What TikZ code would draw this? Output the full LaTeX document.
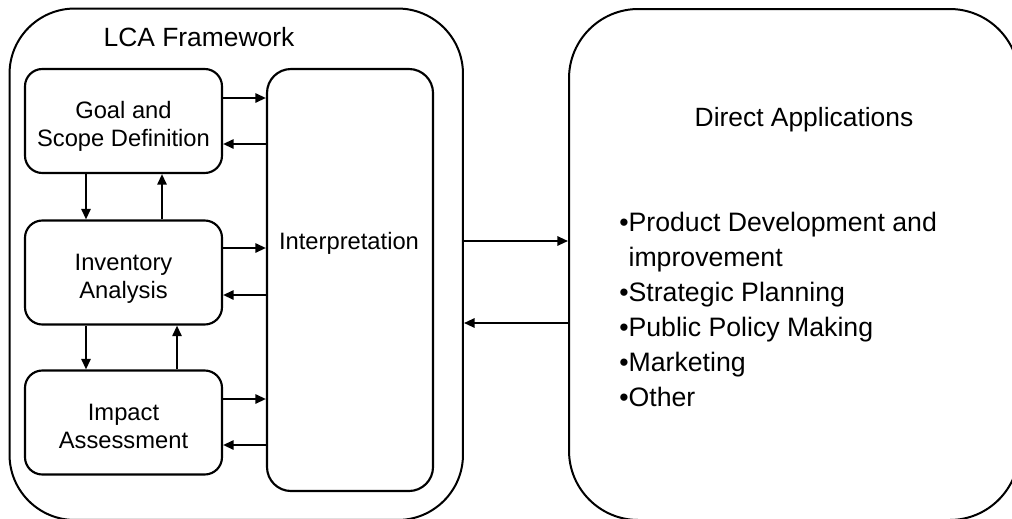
\documentclass[tikz,border=0pt]{standalone}
\usepackage{fontspec}
\setmainfont{Liberation Sans}
\usetikzlibrary{arrows.meta}
% two centred lines, set a little below the middle of their box
\newcommand\stagelabel[2]{\raisebox{-4.5pt}[\height][\depth]{\begin{tabular}{@{}c@{}}#1\\#2\end{tabular}}}
\begin{document}
\begin{tikzpicture}[x=0.75pt,y=-0.75pt,
  panel/.style={draw, line width=1.5pt, inner sep=0pt},
  stagebox/.style={draw, line width=1.6pt, inner sep=0pt, rounded corners=13pt,
    minimum width=147.75pt, minimum height=78pt,
    font=\fontsize{17.8}{21}\selectfont},
  arr/.style={-{Triangle[length=8pt,width=7pt]}, line width=1.5pt},
  title/.style={inner sep=0pt, font=\fontsize{19.8}{24}\selectfont}]
\useasboundingbox (0,0) rectangle (1012,518);
\clip (0,0) rectangle (1012,518);
\fill[white] (0,0) rectangle (1012,518);

% outer panels
\node[panel, rounded corners=49pt, minimum width=340.1pt, minimum height=383.6pt]
  (frame) at (236.25,264.25) {};
\node[panel, rounded corners=52pt, minimum width=337.5pt, minimum height=383.25pt]
  (appbox) at (794,264.5) {};

% LCA stages
\node[stagebox] (goal) at (123.5,121) {\stagelabel{Goal and}{Scope Definition}};
\node[stagebox] (inv) at (123.5,272.5) {\stagelabel{Inventory}{Analysis}};
\node[stagebox] (impact) at (123.5,422.5) {\stagelabel{Impact}{Assessment}};
\node[draw, line width=1.6pt, inner sep=0pt, rounded corners=18pt,
  minimum width=124.5pt, minimum height=316.5pt] (interp) at (350,280) {};

% labels
\node[title] (lca) at (199,37) {LCA Framework};
\node[inner sep=0pt, font=\fontsize{17.8}{21}\selectfont] (interplabel) at (349,243) {Interpretation};
\node[title] (datitle) at (804,120) {Direct Applications};
\node[anchor=base west, inner sep=0pt, font=\fontsize{20}{26.25}\selectfont] (applist) at (619,231)
  {\begin{tabular}[t]{@{}l@{}}
  •Product Development and\\
  \phantom{•}improvement\\
  •Strategic Planning\\
  •Public Policy Making\\
  •Marketing\\
  •Other
  \end{tabular}};

% stage <-> interpretation
\draw[arr] (goal.east |- 0,98) -- (interp.west |- 0,98);
\draw[arr] (interp.west |- 0,144) -- (goal.east |- 0,144);
\draw[arr] (inv.east |- 0,248) -- (interp.west |- 0,248);
\draw[arr] (interp.west |- 0,295) -- (inv.east |- 0,295);
\draw[arr] (impact.east |- 0,399) -- (interp.west |- 0,399);
\draw[arr] (interp.west |- 0,445) -- (impact.east |- 0,445);

% stage <-> stage
\draw[arr] (goal.south -| 86,0) -- (inv.north -| 86,0);
\draw[arr] (inv.north -| 162,0) -- (goal.south -| 162,0);
\draw[arr] (inv.south -| 86,0) -- (impact.north -| 86,0);
\draw[arr] (impact.north -| 177,0) -- (inv.south -| 177,0);

% framework <-> applications
\draw[arr] (frame.east |- 0,241) -- (appbox.west |- 0,241);
\draw[arr] (appbox.west |- 0,323) -- (frame.east |- 0,323);
\end{tikzpicture}
\end{document}
